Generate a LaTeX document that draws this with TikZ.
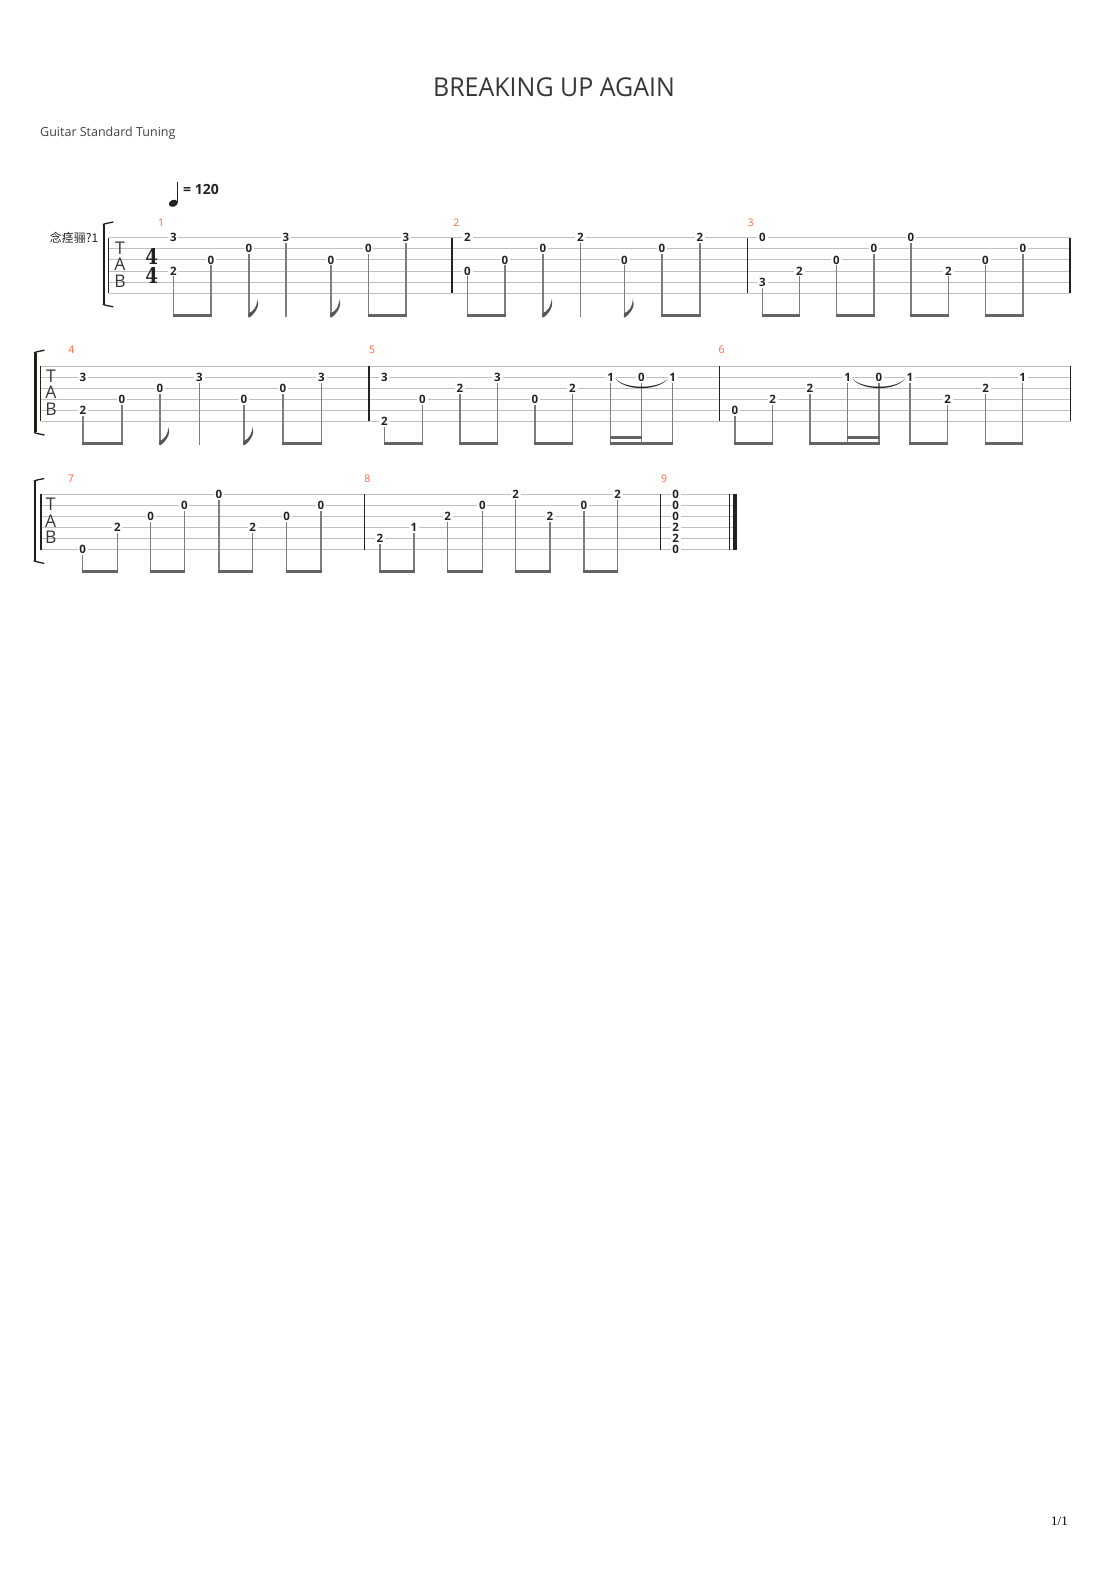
\documentclass[tikz,border=0pt]{standalone}
\usepackage{fontspec}
\usepackage{graphicx}
\newfontfamily\osans{Open Sans}
\newfontfamily\cjkf{Noto Sans CJK SC}
\newfontfamily\lserif{Liberation Serif}
\newfontfamily\dserif{DejaVu Serif}
\definecolor{staffc}{RGB}{192,192,192}
\definecolor{orangec}{RGB}{242,105,60}
\definecolor{darkc}{RGB}{34,34,34}
\definecolor{stemc}{RGB}{125,125,125}
\definecolor{beamc}{RGB}{100,100,100}
\definecolor{brkc}{RGB}{30,30,22}
\tikzset{
 fret/.style={font=\osans\bfseries\fontsize{11.5}{12}\selectfont, text=darkc, fill=white, inner xsep=1.8pt, inner ysep=0.6pt},
 staffl/.style={draw=staffc, line width=0.9pt},
 barl/.style={draw=darkc, line width=1.2pt},
 stemline/.style={draw=stemc, line width=1.1pt},
 beamfill/.style={fill=beamc},
 mnum/.style={font=\osans\fontsize{10.5}{12}\selectfont, text=orangec, inner sep=0pt},
 tabl/.style={font=\osans\fontsize{17.5}{18}\selectfont, text=darkc!90, inner sep=0pt},
 tsig/.style={font=\dserif\bfseries\fontsize{20.5}{20.5}\selectfont, text=darkc, inner sep=0pt},
}
\newcount\nc
\newcommand\Fr[3]{\global\advance\nc by 1 \edef\nn{f\the\nc}%
  \node[fret] (\nn) at (#1,{\Ly+(#2-1)*11.05}) {#3};}
\newcommand\Stm[2]{\draw[stemline] (#1,{\Ly+(#2-1)*11.05+5.5}) -- (#1,{\By+1.4});}
\newcommand\Nt[3]{\Fr{#1}{#2}{#3}\Stm{#1}{#2}}
\newcommand\Bm[2]{\fill[beamfill] ({#1-0.55},{\By-1.4}) rectangle ({#2+0.55},{\By+1.4});}
\newcommand\Sbm[2]{\fill[beamfill] ({#1-0.55},{\By-7.4}) rectangle ({#2+0.55},{\By-4.6});}
\newcommand\Flg[1]{\fill[beamc!85!black] ({#1-0.55},{\By+1.8}) -- ({#1-0.55},{\By-2}) .. controls ({#1+5},{\By-5}) and ({#1+8.5},{\By-9}) .. ({#1+8},{\By-17}) .. controls ({#1+11.5},{\By-11}) and ({#1+7},{\By-3}) .. ({#1+0.55},{\By+1.8}) -- cycle;}
\newcommand\Tie[2]{\fill[darkc] ({#1+4.5},{\Ly+12.35}) .. controls ({#1+14},{\Ly+23.55}) and ({#2-14},{\Ly+23.55}) .. ({#2-4.5},{\Ly+12.35}) .. controls ({#2-14},{\Ly+25.35}) and ({#1+14},{\Ly+25.35}) .. ({#1+4.5},{\Ly+12.35}) -- cycle;}
\newcommand\Staff[2]{\foreach \k in {0,...,5}{\draw[staffl] (#1,{\Ly+\k*11.05}) -- (#2,{\Ly+\k*11.05});}}
\newcommand\Bl[1]{\draw[barl] (#1,\Ly) -- (#1,{\Ly+55.25});}
\newcommand\Brk[1]{\draw[brkc, line width=2.6pt] (#1,{\Ly-13}) -- (#1,{\Ly+66.25});
  \draw[brkc, line width=1.3pt] ({#1-1.2},{\Ly-13.2}) .. controls ({#1+2},{\Ly-14.6}) and ({#1+6},{\Ly-15}) .. ({#1+9.3},{\Ly-15.8});
  \draw[brkc, line width=1.3pt] ({#1-1.2},{\Ly+66.45}) .. controls ({#1+2},{\Ly+67.85}) and ({#1+6},{\Ly+68.25}) .. ({#1+9.3},{\Ly+69.05});}
\newcommand\Tabl[2]{\node[tabl] (T#2) at (#1,{\Ly+10.2}) {T};
  \node[tabl] (A#2) at (#1,{\Ly+26.7}) {A};
  \node[tabl] (B#2) at (#1,{\Ly+43.3}) {B};}
\begin{document}
\begin{tikzpicture}[x=1pt,y=-1pt]
\fill[white] (0,0) rectangle (1110,1570);
\useasboundingbox (0,0) rectangle (1110,1570);
% header
\node[font=\osans\fontsize{26}{30}\selectfont, text=darkc!90, inner sep=0pt] (title) at (554,87) {\scalebox{0.96}[1]{BREAKING UP AGAIN}};
\node[font=\osans\fontsize{12.5}{14}\selectfont, text=darkc!85, anchor=base west, inner sep=0pt] (sub) at (40,136.3) {Guitar Standard Tuning};
% tempo
\fill[darkc, rotate around={20:(173.3,203.3)}] (173.3,203.3) ellipse (4.6 and 3.4);
\draw[darkc, line width=1.1pt] (177.2,181.7) -- (177.2,203);
\node[font=\osans\bfseries\fontsize{14}{14}\selectfont, text=darkc, anchor=west, inner sep=0pt] (tempo) at (183,189) {= 120};
\node[font=\cjkf\fontsize{12}{12}\selectfont, text=darkc, anchor=east, inner sep=0pt] (inst) at (98.5,237.7) {念痉骊?1};
% page number
\node[font=\lserif\fontsize{13}{13}\selectfont, text=black, anchor=base east, inner sep=0pt] (page) at (1068,1525) {1/1};

% ================= System 1
\def\Ly{237.8}\def\By{315.6}
\Staff{108.5}{1070}
\Bl{108.5}\Bl{452}\Bl{747.5}\Bl{1070}
\Brk{104}
\Tabl{120}{a}
\node[tsig] (ts1) at (151.7,256.6) {\scalebox{0.9}[1.05]{4}};
\node[tsig] (ts2) at (151.7,275.6) {\scalebox{0.9}[1.05]{4}};
\node[mnum] (m1) at (161,222.3) {1};
\node[mnum] (m2) at (456.3,222.3) {2};
\node[mnum] (m3) at (750.5,222.3) {3};
% M1
\Nt{173.3}{4}{2}\Fr{173.3}{1}{3}
\Nt{211}{3}{0}\Bm{173.3}{211}
\Nt{249}{2}{0}\Flg{249}
\Nt{286}{1}{3}
\Nt{331}{3}{0}\Flg{331}
\Nt{368.3}{2}{0}\Nt{406}{1}{3}\Bm{368.3}{406}
% M2
\Nt{467.5}{4}{0}\Fr{467.5}{1}{2}
\Nt{505}{3}{0}\Bm{467.5}{505}
\Nt{543}{2}{0}\Flg{543}
\Nt{580.5}{1}{2}
\Nt{624.5}{3}{0}\Flg{624.5}
\Nt{662}{2}{0}\Nt{700}{1}{2}\Bm{662}{700}
% M3
\Nt{762.5}{5}{3}\Fr{762.5}{1}{0}
\Nt{799.5}{4}{2}\Bm{762.5}{799.5}
\Nt{836.5}{3}{0}\Nt{874}{2}{0}\Bm{836.5}{874}
\Nt{911}{1}{0}\Nt{948.5}{4}{2}\Bm{911}{948.5}
\Nt{985.5}{3}{0}\Nt{1023}{2}{0}\Bm{985.5}{1023}

% ================= System 2
\def\Ly{366}\def\By{443.4}
\Staff{40.5}{1070.7}
\Bl{40.5}\Bl{369}\Bl{719.3}\Bl{1070.7}
\Brk{35.3}
\Tabl{51}{b}
\node[mnum] (m4) at (71.3,350) {4};
\node[mnum] (m5) at (372,350) {5};
\node[mnum] (m6) at (721.7,350) {6};
% M4
\Nt{83}{5}{2}\Fr{83}{2}{3}
\Nt{122}{4}{0}\Bm{83}{122}
\Nt{160}{3}{0}\Flg{160}
\Nt{199.5}{2}{3}
\Nt{244}{4}{0}\Flg{244}
\Nt{283}{3}{0}\Nt{321.5}{2}{3}\Bm{283}{321.5}
% M5
\Nt{384.5}{6}{2}\Fr{384.5}{2}{3}
\Nt{422.5}{4}{0}\Bm{384.5}{422.5}
\Nt{460}{3}{2}\Nt{497.5}{2}{3}\Bm{460}{497.5}
\Nt{535}{4}{0}\Nt{572.5}{3}{2}\Bm{535}{572.5}
\Nt{610.7}{2}{1}\Nt{641.3}{2}{0}\Nt{672.7}{2}{1}\Bm{610.7}{672.7}\Sbm{610.7}{641.3}\Tie{610.7}{672.7}
% M6
\Nt{735}{5}{0}\Nt{772.7}{4}{2}\Bm{735}{772.7}
\Nt{810}{3}{2}\Nt{847.7}{2}{1}\Nt{879}{2}{0}\Bm{810}{879}\Sbm{847.7}{879}\Tie{847.7}{910}
\Nt{910}{2}{1}\Nt{947.7}{4}{2}\Bm{910}{947.7}
\Nt{985.7}{3}{2}\Nt{1022.7}{2}{1}\Bm{985.7}{1022.7}

% ================= System 3
\def\Ly{494.3}\def\By{571.8}
\Staff{41}{736.7}
\Bl{41}\Bl{364.3}\Bl{660.7}\Bl{729.3}
\fill[darkc] (733.3,\Ly) rectangle (736.7,{\Ly+55.25});
\Brk{35}
\Tabl{50.7}{c}
\node[mnum] (m7) at (71,478.3) {7};
\node[mnum] (m8) at (367.3,478.3) {8};
\node[mnum] (m9) at (664,478.3) {9};
% M7
\Nt{82.7}{6}{0}\Nt{117.3}{4}{2}\Bm{82.7}{117.3}
\Nt{150.7}{3}{0}\Nt{184.3}{2}{0}\Bm{150.7}{184.3}
\Nt{219}{1}{0}\Nt{252.7}{4}{2}\Bm{219}{252.7}
\Nt{286.7}{3}{0}\Nt{321}{2}{0}\Bm{286.7}{321}
% M8
\Nt{380}{5}{2}\Nt{414}{4}{1}\Bm{380}{414}
\Nt{447.7}{3}{2}\Nt{482.3}{2}{0}\Bm{447.7}{482.3}
\Nt{515.7}{1}{2}\Nt{550}{3}{2}\Bm{515.7}{550}
\Nt{584}{2}{0}\Nt{617.7}{1}{2}\Bm{584}{617.7}
% M9
\Fr{675.7}{1}{0}\Fr{675.7}{2}{0}\Fr{675.7}{3}{0}\Fr{675.7}{4}{2}\Fr{675.7}{5}{2}\Fr{675.7}{6}{0}
\end{tikzpicture}
\end{document}
